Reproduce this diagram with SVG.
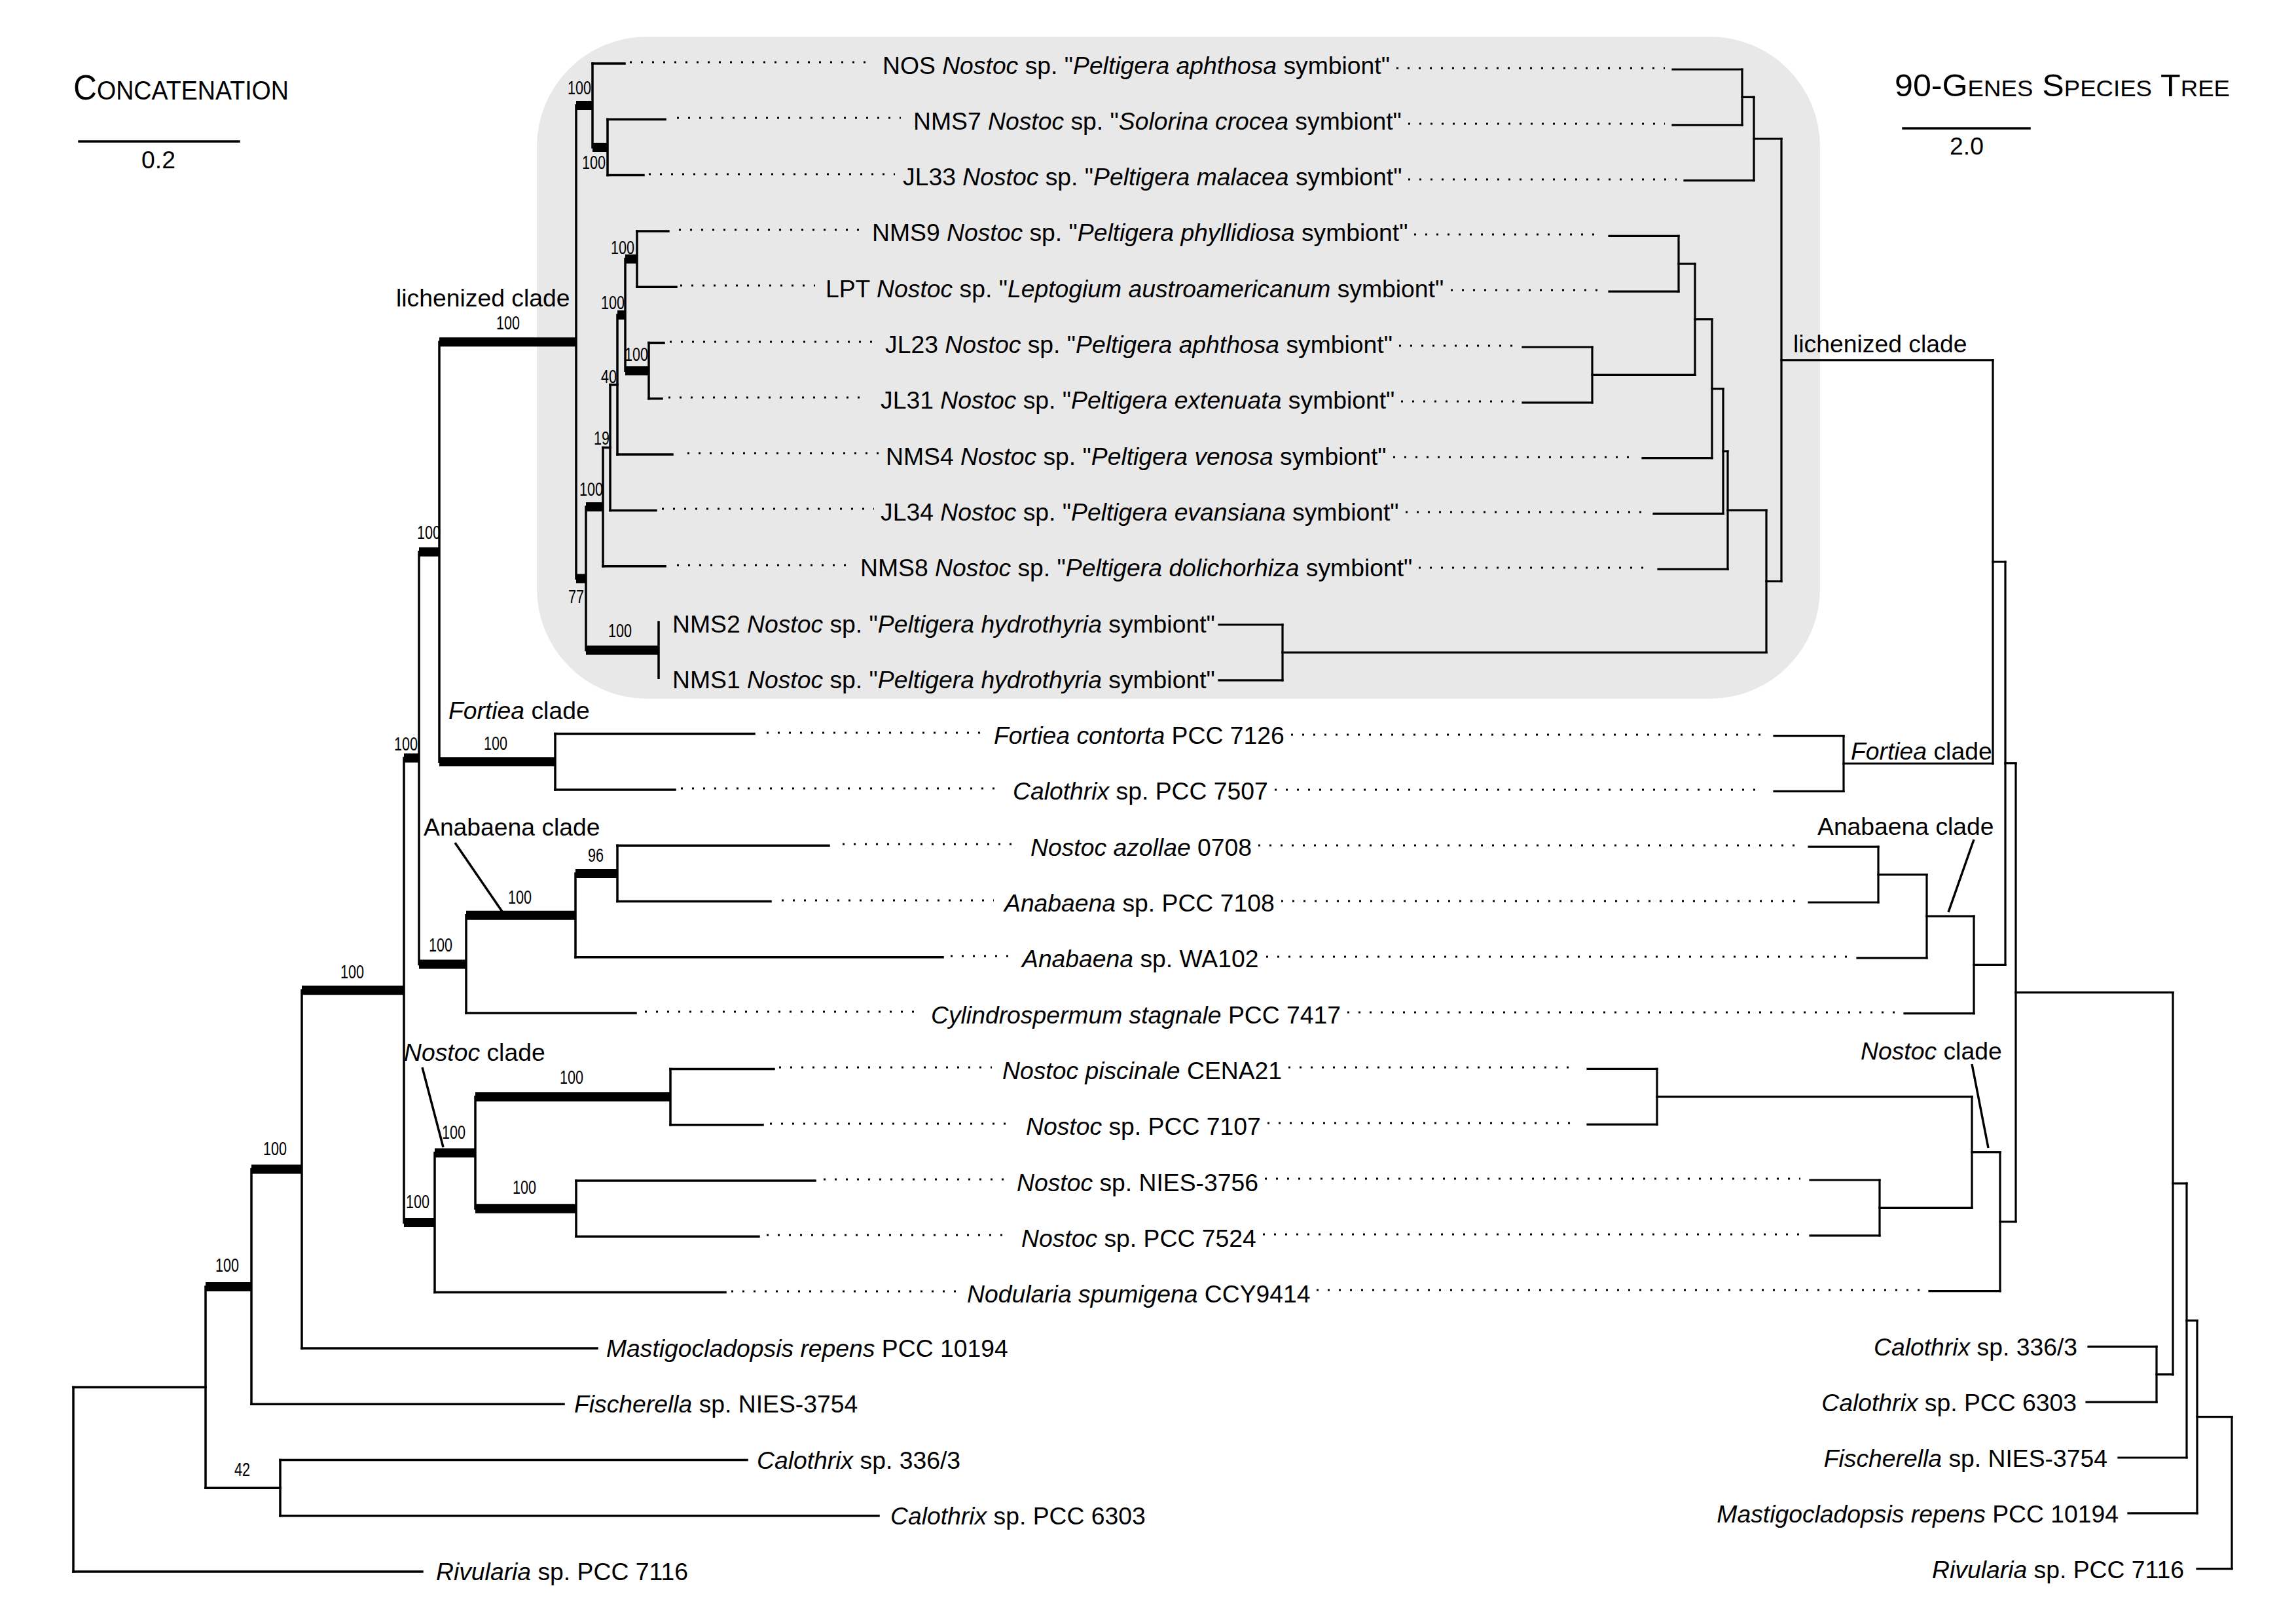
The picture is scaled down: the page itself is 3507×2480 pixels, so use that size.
<svg xmlns="http://www.w3.org/2000/svg" width="3507" height="2480" viewBox="0 0 3507 2480">
<style>
text{font-family:"Liberation Sans",Arial,Helvetica,sans-serif;fill:#000}
.t{font-size:37.3px}
.i{font-style:italic}
.bs{font-size:29px;text-anchor:middle}
.e{text-anchor:end}
.br{stroke:#000;stroke-width:3.5;fill:none;stroke-linecap:square}
.th{stroke:#000;stroke-width:14;fill:none}
.rb{stroke:#000;stroke-width:3.2;fill:none;stroke-linecap:square}
.dt{stroke:#000;stroke-width:3;stroke-dasharray:3 14;fill:none}
.pt{stroke:#000;stroke-width:3.5;fill:none}
</style>
<rect width="3507" height="2480" fill="#fff"/>
<rect id="lichenized-box" x="820" y="56" width="1960" height="1011" rx="168" ry="168" fill="#e8e8e8"/>

<g id="title-left">
<text x="112" y="152" textLength="329" lengthAdjust="spacingAndGlyphs"><tspan font-size="53">C</tspan><tspan font-size="40">ONCATENATION</tspan></text>
<path class="br" d="M121 216H365" stroke-linecap="butt"/>
<text class="t" x="242" y="257" text-anchor="middle">0.2</text>
</g>
<g id="title-right">
<text x="2894" y="147" textLength="512" lengthAdjust="spacingAndGlyphs"><tspan font-size="48">90-G</tspan><tspan font-size="35">ENES</tspan><tspan font-size="48"> S</tspan><tspan font-size="35">PECIES</tspan><tspan font-size="48"> T</tspan><tspan font-size="35">REE</tspan></text>
<path class="br" d="M2907 196H3100" stroke-linecap="butt"/>
<text class="t" x="3004" y="236" text-anchor="middle">2.0</text>
</g>

<g id="connectors">
<g id="left-tree">
<path class="br" d="M905 97V225M928 182.3V267.6M973 352.9V438.2M991 523.5V608.8M955 395.6V566.2M943 480.9V694.1M932 587.5V779.4M921 683.5V864.7M1006 950V1035.3M895 774.1V992.7M880 161V883.4M848 1120.6V1205.9M671 522.2V1163.3M943 1291.2V1376.5M879 1333.9V1461.8M712 1397.8V1547.1M640 842.7V1472.5M1024 1632.4V1717.7M880 1803V1888.3M726 1675V1845.7M664 1760.4V1973.6M617 1157.6V1867M461 1512.3V2058.9M384 1785.6V2144.2M428 2229.5V2314.8M314 1964.9V2272.2M112 2118.5V2400.1"/>
<path class="br" d="M905 97H954M928 182.3H1016M928 267.6H983M973 352.9H1021M973 438.2H1033M991 523.5H1014M991 608.8H1011M943 694.1H1027M932 779.4H1002M921 864.7H1016M848 1120.6H1152M848 1205.9H1031M943 1291.2H1266M943 1376.5H1177M879 1461.8H1440M712 1547.1H971M1024 1632.4H1182M1024 1717.7H1165M880 1803H1245M880 1888.3H1159M664 1973.6H1108M461 2058.9H912M384 2144.2H861M428 2229.5H1141M428 2314.8H1342M112 2400.1H645M932 587.5H943M921 683.5H932M314 2272.2H428M112 2118.5H314"/>
<path class="th" d="M880 161H905M905 225H928M955 395.6H973M955 566.2H991M943 480.9H955M895 774.1H921M895 992.7H1006M880 883.4H895M671 522.2H880M671 1163.3H848M640 842.7H671M879 1333.9H943M712 1397.8H879M640 1472.5H712M617 1157.6H640M726 1675H1024M726 1845.7H880M664 1760.4H726M617 1867H664M461 1512.3H617M384 1785.6H461M314 1964.9H384"/>
</g>
<g id="right-tree">
<path class="rb" d="M2661 106V190.8M2679 148.4V275.6M2564 360.4V445.2M2432 530V614.8M2589 402.8V572.4M2615 487.6V699.6M2632 593.6V784.4M2639 689V869.2M1959 954V1038.8M2698 779.1V996.4M2721 212V887.75M2816 1123.6V1208.4M3044 549.9V1166M2869 1293.2V1378M2943 1335.6V1462.8M3015 1399.2V1547.6M3063 858V1473.4M2531 1632.4V1717.2M2871 1802V1886.8M3012 1674.8V1844.4M3055 1759.6V1971.6M3079 1165.7V1865.6M3294 2056.4V2141.2M3319 1515.7V2098.8M3340 1807.2V2226M3356 2016.6V2310.8M3409 2163.7V2395.6"/>
<path class="rb" d="M2555 106H2661M2555 190.8H2661M2573 275.6H2679M2458 360.4H2564M2458 445.2H2564M2326 530H2432M2326 614.8H2432M2509 699.6H2615M2526 784.4H2632M2533 869.2H2639M1862 954H1959M1862 1038.8H1959M2661 148.4H2679M2679 212H2721M2564 402.8H2589M2432 572.4H2589M2589 487.6H2615M2615 593.6H2632M2632 689H2639M2639 779.1H2698M1959 996.4H2698M2698 887.75H2721M2721 549.9H3044M2710 1123.6H2816M2710 1208.4H2816M2816 1166H3044M3044 858H3063M2763 1293.2H2869M2763 1378H2869M2869 1335.6H2943M2837 1462.8H2943M2943 1399.2H3015M2909 1547.6H3015M3015 1473.4H3063M3063 1165.7H3079M2425 1632.4H2531M2425 1717.2H2531M2531 1674.8H3012M2765 1802H2871M2765 1886.8H2871M2871 1844.4H3012M3012 1759.6H3055M2947 1971.6H3055M3055 1865.6H3079M3079 1515.7H3319M3190 2056.4H3294M3187 2141.2H3294M3294 2098.8H3319M3319 1807.2H3340M3236 2226H3340M3340 2016.6H3356M3251 2310.8H3356M3356 2163.7H3409M3356 2395.6H3409"/>
</g>
<g id="leaders">
<path class="dt" d="M962 95H1335M1034 180H1376M991 266H1367M1037 351H1312M1039 436H1245M1023 522H1334M1021 607H1325M1050 692H1342M1011 777H1335M1034 863H1302M1171 1119H1500M1040 1204H1530M1287 1289H1556M1194 1375H1518M1452 1460H1546M985 1545H1408M1190 1630H1515M1176 1716H1550M1258 1801H1540M1171 1886H1545M1117 1972H1465"/>
<path class="dt" d="M2133 104H2543M2151 189H2543M2151 274H2561M2160 358H2446M2216 443H2446M2137 528H2314M2140 613H2314M2128 698H2492M2147 782H2508M2167 867H2515M1972 1122H2695M1947 1206H2695M1922 1291H2748M1957 1376H2748M1934 1461H2822M2058 1546H2894M1968 1630H2410M1936 1715H2410M1932 1800H2750M1929 1885H2750M2011 1970H2932"/>
</g>
<g id="clade-pointers">
<path class="pt" d="M695 1287L767 1392M645 1630L677 1752M3015 1282L2976 1393M3012 1625L3037 1753"/>
</g>
</g>

<g id="support-values">
<text class="bs" x="885" y="144" textLength="36" lengthAdjust="spacingAndGlyphs">100</text>
<text class="bs" x="907" y="258" textLength="36" lengthAdjust="spacingAndGlyphs">100</text>
<text class="bs" x="951" y="388" textLength="36" lengthAdjust="spacingAndGlyphs">100</text>
<text class="bs" x="936" y="472" textLength="36" lengthAdjust="spacingAndGlyphs">100</text>
<text class="bs" x="972" y="551" textLength="36" lengthAdjust="spacingAndGlyphs">100</text>
<text class="bs" x="930" y="585" textLength="24" lengthAdjust="spacingAndGlyphs">40</text>
<text class="bs" x="919" y="679" textLength="24" lengthAdjust="spacingAndGlyphs">19</text>
<text class="bs" x="903" y="757" textLength="36" lengthAdjust="spacingAndGlyphs">100</text>
<text class="bs" x="880" y="921" textLength="24" lengthAdjust="spacingAndGlyphs">77</text>
<text class="bs" x="947" y="973" textLength="36" lengthAdjust="spacingAndGlyphs">100</text>
<text class="bs" x="776" y="503" textLength="36" lengthAdjust="spacingAndGlyphs">100</text>
<text class="bs" x="655" y="823" textLength="36" lengthAdjust="spacingAndGlyphs">100</text>
<text class="bs" x="757" y="1145" textLength="36" lengthAdjust="spacingAndGlyphs">100</text>
<text class="bs" x="620" y="1146" textLength="36" lengthAdjust="spacingAndGlyphs">100</text>
<text class="bs" x="910" y="1316" textLength="24" lengthAdjust="spacingAndGlyphs">96</text>
<text class="bs" x="794" y="1380" textLength="36" lengthAdjust="spacingAndGlyphs">100</text>
<text class="bs" x="673" y="1453" textLength="36" lengthAdjust="spacingAndGlyphs">100</text>
<text class="bs" x="538" y="1494" textLength="36" lengthAdjust="spacingAndGlyphs">100</text>
<text class="bs" x="873" y="1655" textLength="36" lengthAdjust="spacingAndGlyphs">100</text>
<text class="bs" x="693" y="1739" textLength="36" lengthAdjust="spacingAndGlyphs">100</text>
<text class="bs" x="801" y="1823" textLength="36" lengthAdjust="spacingAndGlyphs">100</text>
<text class="bs" x="638" y="1845" textLength="36" lengthAdjust="spacingAndGlyphs">100</text>
<text class="bs" x="420" y="1764" textLength="36" lengthAdjust="spacingAndGlyphs">100</text>
<text class="bs" x="347" y="1942" textLength="36" lengthAdjust="spacingAndGlyphs">100</text>
<text class="bs" x="370" y="2254" textLength="24" lengthAdjust="spacingAndGlyphs">42</text>
</g>

<g id="clade-labels">
<text class="t" x="605" y="468">lichenized clade</text>
<text class="t" x="685" y="1098"><tspan class="i">Fortiea</tspan> clade</text>
<text class="t" x="647" y="1276">Anabaena clade</text>
<text class="t" x="617" y="1620"><tspan class="i">Nostoc</tspan> clade</text>
<text class="t" x="2739" y="538">lichenized clade</text>
<text class="t" x="2827" y="1160"><tspan class="i">Fortiea</tspan> clade</text>
<text class="t" x="2776" y="1275">Anabaena clade</text>
<text class="t" x="2842" y="1618"><tspan class="i">Nostoc</tspan> clade</text>
</g>

<g id="taxon-NOS"><text class="t" x="1348" y="112.5">NOS <tspan class="i">Nostoc</tspan> sp. "<tspan class="i">Peltigera aphthosa</tspan> symbiont"</text></g>
<g id="taxon-NMS7"><text class="t" x="1395" y="198">NMS7 <tspan class="i">Nostoc</tspan> sp. "<tspan class="i">Solorina crocea</tspan> symbiont"</text></g>
<g id="taxon-JL33"><text class="t" x="1379" y="283">JL33 <tspan class="i">Nostoc</tspan> sp. "<tspan class="i">Peltigera malacea</tspan> symbiont"</text></g>
<g id="taxon-NMS9"><text class="t" x="1332" y="368">NMS9 <tspan class="i">Nostoc</tspan> sp. "<tspan class="i">Peltigera phyllidiosa</tspan> symbiont"</text></g>
<g id="taxon-LPT"><text class="t" x="1261" y="454">LPT <tspan class="i">Nostoc</tspan> sp. "<tspan class="i">Leptogium austroamericanum</tspan> symbiont"</text></g>
<g id="taxon-JL23"><text class="t" x="1352" y="539">JL23 <tspan class="i">Nostoc</tspan> sp. "<tspan class="i">Peltigera aphthosa</tspan> symbiont"</text></g>
<g id="taxon-JL31"><text class="t" x="1345" y="624">JL31 <tspan class="i">Nostoc</tspan> sp. "<tspan class="i">Peltigera extenuata</tspan> symbiont"</text></g>
<g id="taxon-NMS4"><text class="t" x="1353" y="710">NMS4 <tspan class="i">Nostoc</tspan> sp. "<tspan class="i">Peltigera venosa</tspan> symbiont"</text></g>
<g id="taxon-JL34"><text class="t" x="1345" y="795">JL34 <tspan class="i">Nostoc</tspan> sp. "<tspan class="i">Peltigera evansiana</tspan> symbiont"</text></g>
<g id="taxon-NMS8"><text class="t" x="1314" y="880">NMS8 <tspan class="i">Nostoc</tspan> sp. "<tspan class="i">Peltigera dolichorhiza</tspan> symbiont"</text></g>
<g id="taxon-NMS2"><text class="t" x="1027" y="966">NMS2 <tspan class="i">Nostoc</tspan> sp. "<tspan class="i">Peltigera hydrothyria</tspan> symbiont"</text></g>
<g id="taxon-NMS1"><text class="t" x="1027" y="1051">NMS1 <tspan class="i">Nostoc</tspan> sp. "<tspan class="i">Peltigera hydrothyria</tspan> symbiont"</text></g>
<g id="taxon-Fortiea"><text class="t" x="1518" y="1136"><tspan class="i">Fortiea contorta</tspan> PCC 7126</text></g>
<g id="taxon-Calothrix7507"><text class="t" x="1547" y="1221"><tspan class="i">Calothrix</tspan> sp. PCC 7507</text></g>
<g id="taxon-Nazollae"><text class="t" x="1574" y="1307"><tspan class="i">Nostoc azollae</tspan> 0708</text></g>
<g id="taxon-Anabaena7108"><text class="t" x="1534" y="1392"><tspan class="i">Anabaena</tspan> sp. PCC 7108</text></g>
<g id="taxon-AnabaenaWA102"><text class="t" x="1561" y="1477"><tspan class="i">Anabaena</tspan> sp. WA102</text></g>
<g id="taxon-Cylindrospermum"><text class="t" x="1422" y="1563"><tspan class="i">Cylindrospermum stagnale</tspan> PCC 7417</text></g>
<g id="taxon-Npiscinale"><text class="t" x="1531" y="1648"><tspan class="i">Nostoc piscinale</tspan> CENA21</text></g>
<g id="taxon-Nostoc7107"><text class="t" x="1567" y="1733"><tspan class="i">Nostoc</tspan> sp. PCC 7107</text></g>
<g id="taxon-NostocNIES3756"><text class="t" x="1553" y="1819"><tspan class="i">Nostoc</tspan> sp. NIES-3756</text></g>
<g id="taxon-Nostoc7524"><text class="t" x="1560" y="1904"><tspan class="i">Nostoc</tspan> sp. PCC 7524</text></g>
<g id="taxon-Nodularia"><text class="t" x="1477" y="1989"><tspan class="i">Nodularia spumigena</tspan> CCY9414</text></g>

<g id="taxon-Mastigocladopsis-left"><text class="t" x="926" y="2072"><tspan class="i">Mastigocladopsis repens</tspan> PCC 10194</text></g>
<g id="taxon-Fischerella-left"><text class="t" x="877" y="2157"><tspan class="i">Fischerella</tspan> sp. NIES-3754</text></g>
<g id="taxon-Calothrix336-left"><text class="t" x="1156" y="2243"><tspan class="i">Calothrix</tspan> sp. 336/3</text></g>
<g id="taxon-Calothrix6303-left"><text class="t" x="1360" y="2328"><tspan class="i">Calothrix</tspan> sp. PCC 6303</text></g>
<g id="taxon-Rivularia-left"><text class="t" x="666" y="2413"><tspan class="i">Rivularia</tspan> sp. PCC 7116</text></g>

<g id="taxon-Calothrix336-right"><text class="t e" x="3173" y="2070"><tspan class="i">Calothrix</tspan> sp. 336/3</text></g>
<g id="taxon-Calothrix6303-right"><text class="t e" x="3172" y="2155"><tspan class="i">Calothrix</tspan> sp. PCC 6303</text></g>
<g id="taxon-Fischerella-right"><text class="t e" x="3219" y="2240"><tspan class="i">Fischerella</tspan> sp. NIES-3754</text></g>
<g id="taxon-Mastigocladopsis-right"><text class="t e" x="3236" y="2325"><tspan class="i">Mastigocladopsis repens</tspan> PCC 10194</text></g>
<g id="taxon-Rivularia-right"><text class="t e" x="3336" y="2410"><tspan class="i">Rivularia</tspan> sp. PCC 7116</text></g>
</svg>
